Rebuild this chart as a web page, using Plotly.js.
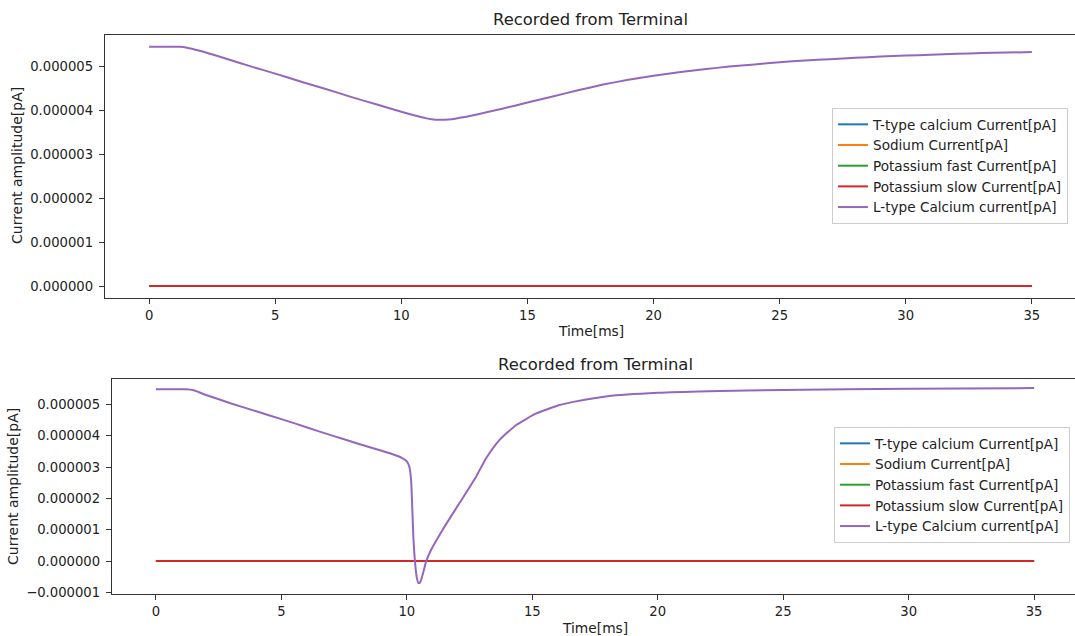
<!DOCTYPE html>
<html>
<head>
<meta charset="utf-8">
<script src="https://cdn.plot.ly/plotly-3.0.1.min.js"></script>
<style>
  html, body { margin: 0; padding: 0; overflow: hidden; background: #fff; }
  #chart { width: 1080px; height: 636px; }
</style>
</head>
<body>
<div id="chart"></div>
<script>
// ---- Data (currents, in units of 1e-6 pA) ----
const UNIT = 1e-6;

const seriesNames = [
  "T-type calcium Current[pA]",
  "Sodium Current[pA]",
  "Potassium fast Current[pA]",
  "Potassium slow Current[pA]",
  "L-type Calcium current[pA]"
];

// flat currents (all ~0 over the whole recording)
const flatTime = [0, 35];
const topTType = [0, 0];
const topSodium = [0, 0];
const topKFast = [0, 0];
const topKSlow = [0, 0];
const bottomTType = [0, 0];
const bottomSodium = [0, 0];
const bottomKFast = [0, 0];
const bottomKSlow = [0, 0];

// top panel: L-type calcium current
const topTime = [0, 1.2, 1.5, 2, 3, 4, 5, 6, 7, 8, 9, 10, 10.5, 11, 11.35, 11.7, 12, 12.5, 13, 14,
  15, 16, 17, 18, 19, 20, 21, 22, 23, 24, 25, 26, 27, 28, 29, 30, 31, 32, 33, 34, 35];
const topLType = [5.45, 5.45, 5.43, 5.36, 5.19, 5.01, 4.84, 4.66, 4.49, 4.31, 4.14, 3.97, 3.89, 3.82, 3.79, 3.79, 3.80, 3.85, 3.91, 4.04,
  4.18, 4.32, 4.46, 4.59, 4.70, 4.79, 4.87, 4.94, 5.00, 5.05, 5.10, 5.14, 5.17, 5.20, 5.23, 5.25, 5.27, 5.29, 5.31, 5.32, 5.33];

// bottom panel: L-type calcium current
const bottomTime = [0, 1.2, 1.5, 2, 3, 4, 5, 6, 7, 8, 9, 9.5, 9.8, 10.0, 10.1, 10.17, 10.21, 10.26, 10.33, 10.40,
  10.46, 10.52, 10.57, 10.67, 10.77, 10.97, 11.43, 12.1, 12.76, 13.16, 13.69, 14.36, 15.16, 16.09, 16.64, 18, 20, 22, 25, 30, 35];
const bottomLType = [5.48, 5.48, 5.45, 5.30, 5.03, 4.78, 4.53, 4.27, 4.01, 3.76, 3.52, 3.39, 3.29, 3.18, 3.01, 2.59, 1.85, 0.78, -0.06, -0.54,
  -0.70, -0.69, -0.60, -0.32, -0.01, 0.36, 1.00, 1.85, 2.69, 3.28, 3.86, 4.34, 4.71, 4.98, 5.08, 5.26, 5.37, 5.42, 5.46, 5.50, 5.52];

const xTickVals = [0, 5, 10, 15, 20, 25, 30, 35];
const panelTitle = "Recorded from Terminal";
const xTitle = "Time[ms]";
const yTitle = "Current amplitude[pA]";

// ---- Styling ----
const colors = ["#1f77b4", "#ff7f0e", "#2ca02c", "#d62728", "#9467bd"];
const FONT = "DejaVu Sans, sans-serif";
const W = 1080, H = 636;
const px = x => x / W;
const py = y => 1 - y / H;
const scale = arr => arr.map(v => v * UNIT);

function mk(x, y, i, xa, ya, leg, shape) {
  const line = { color: colors[i], width: 2 };
  if (shape) { line.shape = "spline"; line.smoothing = 0.5; }
  return {
    x: x, y: scale(y), type: "scatter", mode: "lines",
    name: seriesNames[i], line: line,
    xaxis: xa, yaxis: ya, legend: leg, hoverinfo: "skip"
  };
}

const traces = [
  mk(flatTime, topTType, 0, "x", "y", "legend"),
  mk(flatTime, topSodium, 1, "x", "y", "legend"),
  mk(flatTime, topKFast, 2, "x", "y", "legend"),
  mk(flatTime, topKSlow, 3, "x", "y", "legend"),
  mk(topTime, topLType, 4, "x", "y", "legend", true),
  mk(flatTime, bottomTType, 0, "x2", "y2", "legend2"),
  mk(flatTime, bottomSodium, 1, "x2", "y2", "legend2"),
  mk(flatTime, bottomKFast, 2, "x2", "y2", "legend2"),
  mk(flatTime, bottomKSlow, 3, "x2", "y2", "legend2"),
  mk(bottomTime, bottomLType, 4, "x2", "y2", "legend2", true)
];

const axisCommon = {
  showgrid: false, zeroline: false, showline: true, mirror: true,
  linecolor: "#333", linewidth: 1.2,
  ticks: "outside", ticklen: 5, tickwidth: 1, tickcolor: "#333",
  tickfont: { family: FONT, size: 13.2, color: "#222" },
  fixedrange: true
};

const xAxis = (domain, anchor) => Object.assign({}, axisCommon, {
  domain: domain, anchor: anchor, range: [-1.75, 36.75],
  tickmode: "array", tickvals: xTickVals, ticktext: xTickVals.map(String)
});
const yAxis = (domain, anchor, range) => Object.assign({}, axisCommon, {
  domain: domain, anchor: anchor, range: range,
  tick0: 0, dtick: 1e-6, tickformat: ".6f", ticklabelstandoff: 3
});

const legendCommon = {
  font: { family: FONT, size: 13.6, color: "#222" },
  bgcolor: "rgba(255,255,255,0.8)", bordercolor: "#cccccc", borderwidth: 1,
  xanchor: "left", yanchor: "top", itemwidth: 30, itemclick: false, itemdoubleclick: false
};

const ann = (text, x, y, size, extra) => Object.assign({
  text: text, x: px(x), y: py(y), xref: "paper", yref: "paper",
  showarrow: false, xanchor: "center", yanchor: "middle",
  font: { family: FONT, size: size, color: "#222" }
}, extra || {});

const layout = {
  width: W, height: H,
  margin: { l: 0, r: 0, t: 0, b: 0 },
  paper_bgcolor: "#fff", plot_bgcolor: "#fff",
  showlegend: true,
  xaxis: xAxis([px(105), px(1076)], "y"),
  yaxis: yAxis([py(298), py(35)], "x", [-0.2735e-6, 5.72e-6]),
  xaxis2: xAxis([px(112), px(1078)], "y2"),
  yaxis2: yAxis([py(594), py(379)], "x2", [-1.0535e-6, 5.81e-6]),
  legend: Object.assign({}, legendCommon, { x: px(832), y: py(108) }),
  legend2: Object.assign({}, legendCommon, { x: px(834), y: py(427) }),
  annotations: [
    ann(panelTitle, 590.5, 19, 16.4),
    ann(panelTitle, 595, 364, 16.4),
    ann(xTitle, 590.5, 331, 13.8),
    ann(xTitle, 595, 628, 13.8),
    ann(yTitle, 17, 166, 14, { textangle: -90 }),
    ann(yTitle, 13, 487, 14, { textangle: -90 })
  ]
};

Plotly.newPlot("chart", traces, layout, { staticPlot: true, displayModeBar: false });
</script>
</body>
</html>
